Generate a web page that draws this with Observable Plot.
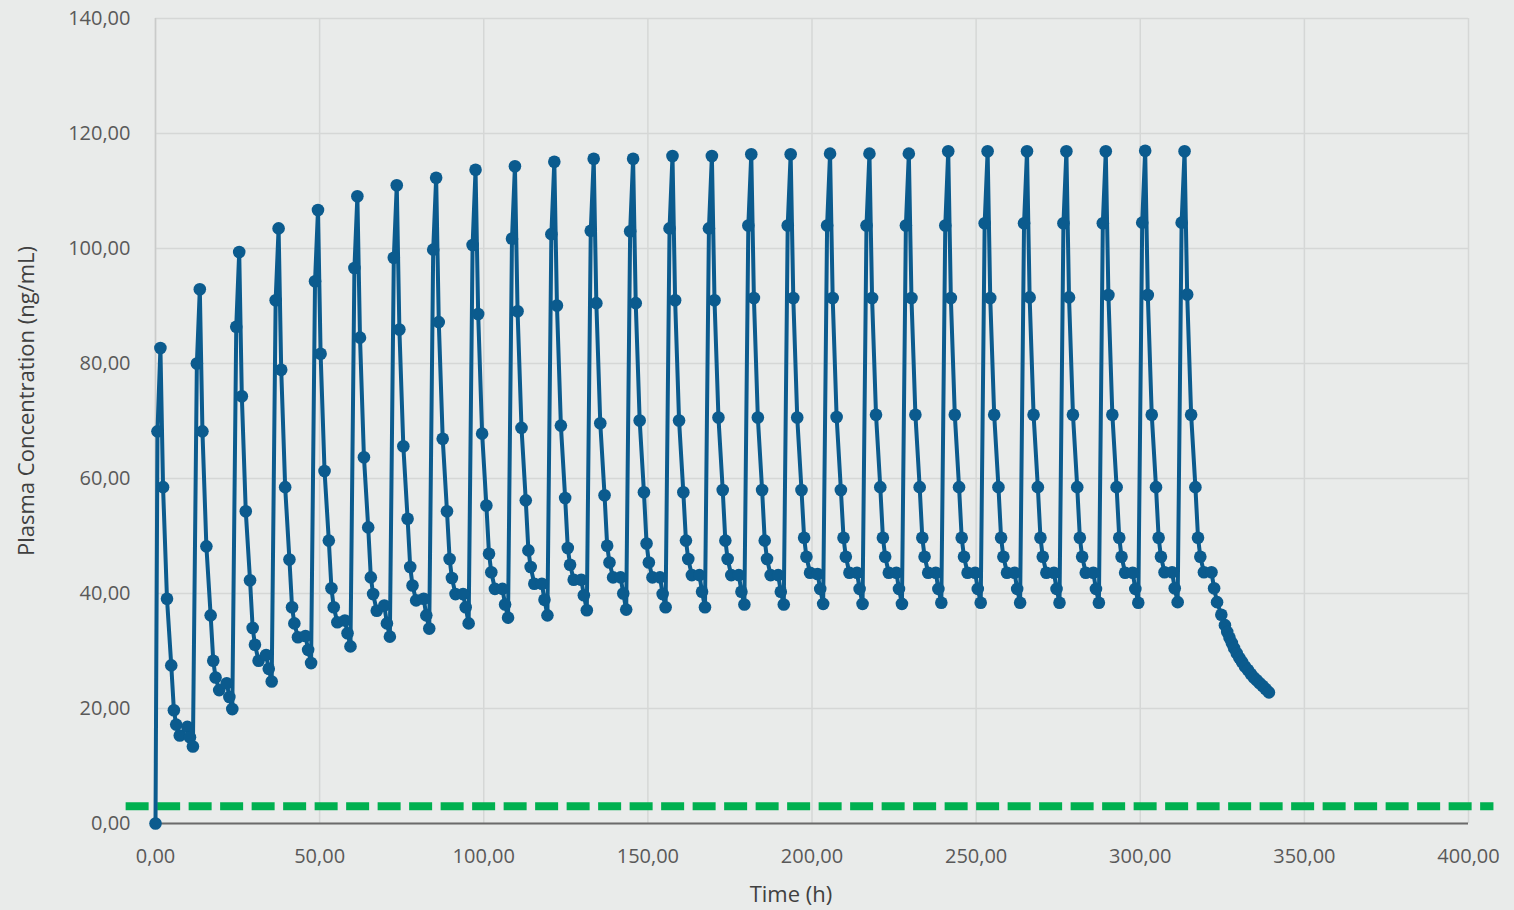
<!DOCTYPE html>
<html>
<head>
<meta charset="utf-8">
<script src="https://cdn.jsdelivr.net/npm/d3@7"></script>
<script src="https://cdn.jsdelivr.net/npm/@observablehq/plot@0.6"></script>
<style>
  html, body { margin: 0; padding: 0; background: #e9ebea; overflow: hidden; }
  #chart { width: 1514px; height: 910px; }
</style>
</head>
<body>
<div id="chart"></div>
<script>
// ---- data ----
const xTicks = [0, 50, 100, 150, 200, 250, 300, 350, 400];
const yTicks = [0, 20, 40, 60, 80, 100, 120, 140];

const startPoint = {t: 0, c: 0};
const doseTimes = [0, 12, 24, 36, 48, 60, 72, 84, 96, 108, 120, 132, 144, 156, 168, 180, 192, 204, 216, 228, 240, 252, 264, 276, 288, 300, 312];
const sampleOffsets = [0.6, 1.5, 2.3, 3.5, 4.8, 5.6, 6.3, 7.4, 9.7, 10.5, 11.4];
const doseConc = [
  [68.2, 82.7, 58.5, 39.1, 27.5, 19.7, 17.2, 15.3, 16.8, 15.0, 13.4],
  [80.0, 92.9, 68.2, 48.2, 36.2, 28.3, 25.4, 23.2, 24.4, 22.0, 19.9],
  [86.4, 99.4, 74.3, 54.3, 42.3, 34.0, 31.1, 28.3, 29.3, 26.9, 24.7],
  [91.0, 103.5, 78.9, 58.5, 45.9, 37.6, 34.8, 32.4, 32.6, 30.2, 27.9],
  [94.3, 106.7, 81.7, 61.3, 49.2, 40.9, 37.6, 35.0, 35.3, 33.1, 30.8],
  [96.6, 109.1, 84.5, 63.7, 51.5, 42.8, 39.9, 37.0, 37.9, 34.8, 32.5],
  [98.4, 111.0, 85.9, 65.6, 53.0, 44.6, 41.4, 38.8, 39.1, 36.2, 33.9],
  [99.8, 112.3, 87.2, 66.9, 54.3, 46.0, 42.7, 39.9, 39.9, 37.6, 34.8],
  [100.6, 113.7, 88.6, 67.8, 55.3, 46.9, 43.7, 40.8, 40.8, 38.1, 35.8],
  [101.7, 114.3, 89.1, 68.8, 56.2, 47.5, 44.6, 41.7, 41.7, 38.9, 36.2],
  [102.5, 115.1, 90.1, 69.2, 56.6, 47.9, 45.0, 42.4, 42.4, 39.7, 37.1],
  [103.1, 115.6, 90.5, 69.6, 57.1, 48.3, 45.4, 42.8, 42.8, 40.0, 37.2],
  [103.0, 115.6, 90.5, 70.1, 57.6, 48.7, 45.4, 42.8, 42.8, 39.9, 37.6],
  [103.5, 116.1, 91.0, 70.1, 57.6, 49.2, 46.0, 43.2, 43.2, 40.3, 37.6],
  [103.5, 116.1, 91.0, 70.6, 58.0, 49.2, 46.0, 43.2, 43.2, 40.3, 38.1],
  [104.0, 116.4, 91.4, 70.6, 58.0, 49.2, 46.0, 43.2, 43.2, 40.3, 38.1],
  [104.0, 116.4, 91.4, 70.6, 58.0, 49.7, 46.4, 43.6, 43.4, 40.8, 38.2],
  [104.0, 116.5, 91.4, 70.7, 58.0, 49.7, 46.4, 43.6, 43.6, 40.8, 38.2],
  [104.0, 116.5, 91.4, 71.1, 58.5, 49.7, 46.4, 43.6, 43.6, 40.8, 38.2],
  [104.0, 116.5, 91.4, 71.1, 58.5, 49.7, 46.4, 43.6, 43.6, 40.8, 38.4],
  [104.0, 116.9, 91.4, 71.1, 58.5, 49.7, 46.4, 43.6, 43.6, 40.8, 38.4],
  [104.4, 116.9, 91.4, 71.1, 58.5, 49.7, 46.4, 43.6, 43.6, 40.8, 38.4],
  [104.4, 116.9, 91.5, 71.1, 58.5, 49.7, 46.4, 43.6, 43.6, 40.8, 38.4],
  [104.4, 116.9, 91.5, 71.1, 58.5, 49.7, 46.4, 43.6, 43.6, 40.8, 38.4],
  [104.4, 116.9, 91.9, 71.1, 58.5, 49.7, 46.4, 43.6, 43.6, 40.8, 38.4],
  [104.5, 117.0, 91.9, 71.1, 58.5, 49.7, 46.4, 43.7, 43.7, 40.9, 38.5],
  [104.5, 116.9, 92.0, 71.1, 58.5, 49.7, 46.4, 43.7, 43.7, 40.9, 38.5]
];
const tailTimes = [324.7, 325.8, 326.5, 327.2, 327.9, 328.6, 329.4, 330.2, 331.0, 331.9, 332.8, 333.7, 334.6, 335.5, 336.4, 337.3, 338.2, 339.2];
const tailConc  = [36.3, 34.5, 33.3, 32.3, 31.4, 30.5, 29.6, 28.8, 28.1, 27.3, 26.7, 26.0, 25.4, 24.9, 24.4, 23.9, 23.4, 22.8];

// dashed threshold line (extends beyond the frame in the reference)
const thresholdX = [-9.1, 407.6];
const thresholdY = 3;

// ---- build table ----
const pk = [startPoint];
doseTimes.forEach((d, i) => {
  sampleOffsets.forEach((o, j) => pk.push({t: d + o, c: doseConc[i][j]}));
});
tailTimes.forEach((t, i) => pk.push({t, c: tailConc[i]}));
const threshold = thresholdX.map(x => ({x, y: thresholdY}));

const fmt = d => d3.format(".2f")(d).replace(".", ",");
const blue = "#0b5b8e";

const chart = Plot.plot({
  width: 1514,
  height: 910,
  marginLeft: 155,
  marginRight: 46,
  marginTop: 18,
  marginBottom: 87,
  style: {background: "transparent", fontFamily: "'Open Sans', sans-serif", color: "#595959", overflow: "visible"},
  x: {domain: [0, 400]},
  y: {domain: [0, 140]},
  marks: [
    Plot.gridX(xTicks, {stroke: "#d5d7d6", strokeOpacity: 1, strokeWidth: 1.5}),
    Plot.gridY(yTicks, {stroke: "#d5d7d6", strokeOpacity: 1, strokeWidth: 1.5}),
    Plot.ruleX([0], {stroke: "#c9cbca", strokeWidth: 1.5}),
    Plot.ruleY([0], {stroke: "#6b6b6b", strokeWidth: 2}),
    Plot.line(threshold, {x: "x", y: "y", stroke: "#00b050", strokeWidth: 8, strokeDasharray: "23,8.5", strokeLinecap: "butt"}),
    Plot.line(pk, {x: "t", y: "c", stroke: blue, strokeWidth: 4}),
    Plot.dot(pk, {x: "t", y: "c", r: 6.3, fill: blue, stroke: "none"}),
    Plot.axisX(xTicks, {tickFormat: fmt, tickSize: 0, tickPadding: 25, fontSize: 20, label: null}),
    Plot.axisY(yTicks, {tickFormat: fmt, tickSize: 0, tickPadding: 25, fontSize: 20, label: null})
  ]
});
document.getElementById("chart").appendChild(chart);

const svg = d3.select(chart);
svg.append("text")
  .attr("x", 791).attr("y", 902)
  .attr("text-anchor", "middle")
  .attr("font-family", "'Open Sans', sans-serif")
  .attr("font-size", 22)
  .attr("fill", "#404040")
  .text("Time (h)");
svg.append("text")
  .attr("transform", "translate(34,401) rotate(-90)")
  .attr("text-anchor", "middle")
  .attr("font-family", "'Open Sans', sans-serif")
  .attr("font-size", 22)
  .attr("fill", "#404040")
  .text("Plasma Concentration (ng/mL)");
</script>
</body>
</html>
